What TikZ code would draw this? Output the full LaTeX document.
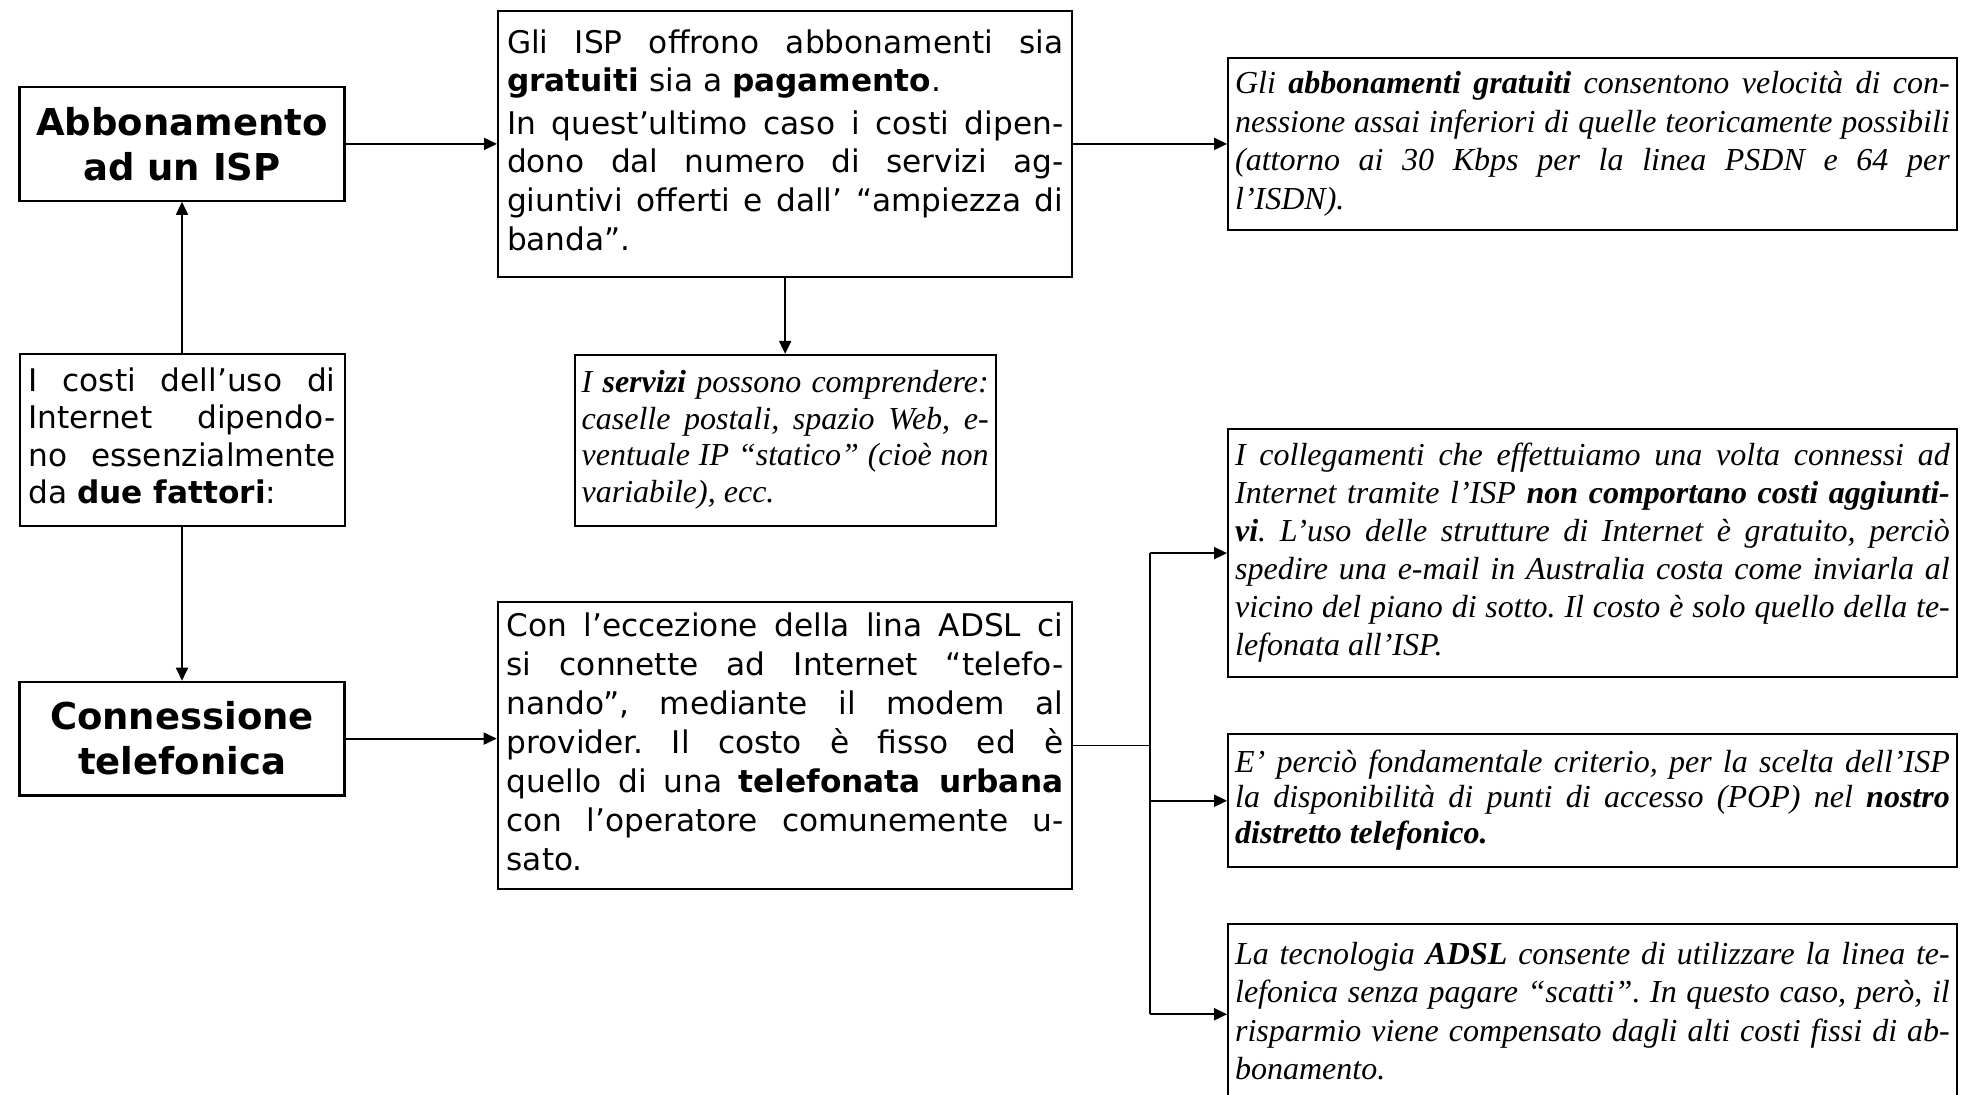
\documentclass[tikz,border=0pt]{standalone}
\usepackage{fontspec}
\newfontfamily\boxsans{DejaVu Sans}
\newfontfamily\boxserif{Liberation Serif}
\usetikzlibrary{arrows.meta,positioning}
\frenchspacing

\begin{document}
\begin{tikzpicture}[>={Triangle[length=6.5pt,width=6pt]}, line width=0.9pt,
  titlebox/.style={draw, line width=1.1pt, minimum width=162.5pt, minimum height=56.8pt, inner sep=3pt, align=center, font=\boxsans\bfseries\fontsize{18.5}{22.5}\selectfont},
  sansbox/.style={draw, line width=1pt, inner xsep=4.5pt, inner ysep=3pt, align=justify, font=\boxsans\fontsize{15.6}{19.3}\selectfont, execute at begin node=\strut, execute at end node=\strut},
  notebox/.style={draw, line width=1pt, inner xsep=3.5pt, inner ysep=3pt, text width=357.35pt, align=justify, font=\boxserif\itshape\fontsize{16}{17.6}\selectfont, execute at begin node=\strut, execute at end node=\strut}]
  \useasboundingbox (0,0) rectangle (983pt,-547pt);
  \clip (0,0) rectangle (983pt,-547pt);

  % left column
  \node[titlebox, anchor=north west] (abb) at (9.2pt,-43pt) {Abbonamento\\ad un ISP};
  \node[sansbox, text width=153.5pt, minimum height=85.65pt, font=\boxsans\fontsize{15.6}{18.8}\selectfont, below=75.8pt of abb] (costi)
    {I costi dell’uso di\linebreak Internet dipendo-\linebreak no essenzialmente\linebreak da \textbf{due fattori}:};
  \node[titlebox, below=77pt of costi] (conn) {Connessione\\telefonica};

  % middle column
  \node[sansbox, text width=278.15pt, minimum height=133pt, right=75.7pt of abb] (isp)
    {Gli ISP offrono abbonamenti sia\linebreak \textbf{gratuiti} sia a \textbf{pagamento}.\par\vspace{2pt}In quest’ultimo caso i costi dipen-\linebreak dono dal numero di servizi ag-\linebreak giuntivi offerti e dall’ “ampiezza di\linebreak banda”.};
  \node[notebox, text width=203.5pt, minimum height=85.35pt, font=\boxserif\itshape\fontsize{16}{18.3}\selectfont, below=38pt of isp] (serv)
    {I \textbf{servizi} possono comprendere:\linebreak caselle postali, spazio Web, e-\linebreak ventuale IP “statico” (cioè non\linebreak variabile), ecc.};
  \node[sansbox, text width=278.3pt, minimum height=143.15pt, font=\boxsans\fontsize{15.6}{19.5}\selectfont, right=75.55pt of conn, yshift=-3.4pt] (ecc)
    {Con l’eccezione della lina ADSL ci\linebreak si connette ad Internet “telefo-\linebreak nando”, mediante il modem al\linebreak provider. Il costo è fisso ed è\linebreak quello di una \textbf{telefonata urbana}\linebreak con l’operatore comunemente u-\linebreak sato.};

  % right column
  \node[notebox, minimum height=85.85pt, font=\boxserif\itshape\fontsize{16}{19.2}\selectfont, right=76.9pt of isp] (grat)
    {Gli \textbf{abbonamenti gratuiti} consentono velocità di con-\linebreak nessione assai inferiori di quelle teoricamente possibili\linebreak (attorno ai 30 Kbps per la linea PSDN e 64 per\linebreak l’ISDN).};
  \node[notebox, minimum height=124.35pt, font=\boxserif\itshape\fontsize{16}{19}\selectfont, below=98.5pt of grat] (coll)
    {I collegamenti che effettuiamo una volta connessi ad\linebreak Internet tramite l’ISP \textbf{non comportano costi aggiunti-\linebreak vi}. L’uso delle strutture di Internet è gratuito, perciò\linebreak spedire una e-mail in Australia costa come inviarla al\linebreak vicino del piano di sotto. Il costo è solo quello della te-\linebreak lefonata all’ISP.};
  \node[notebox, minimum height=66.3pt, below=27.5pt of coll] (pop)
    {E’ perciò fondamentale criterio, per la scelta dell’ISP\linebreak la disponibilità di punti di accesso (POP) nel \textbf{nostro\linebreak distretto telefonico.}};
  \node[notebox, minimum height=90pt, font=\boxserif\itshape\fontsize{16}{19.2}\selectfont, below=27.6pt of pop] (adsl)
    {La tecnologia \textbf{ADSL} consente di utilizzare la linea te-\linebreak lefonica senza pagare “scatti”. In questo caso, però, il\linebreak risparmio viene compensato dagli alti costi fissi di ab-\linebreak bonamento.};

  % arrows
  \draw[->] (costi) -- (abb);
  \draw[->] (costi) -- (conn);
  \draw[->] (abb) -- (isp);
  \draw[->] (isp) -- (grat);
  \draw[->] (isp) -- (serv);
  \draw[->] (conn.east) -- (conn.east -| ecc.west);

  % fork to the three notes
  \coordinate[right=38.5pt of ecc.east] (fork);
  \draw (ecc.east) -- (fork);
  \draw (fork |- coll.west) -- (fork |- adsl.west);
  \draw[->] (fork |- coll.west) -- (coll.west);
  \draw[->] (fork |- pop.west) -- (pop.west);
  \draw[->] (fork |- adsl.west) -- (adsl.west);
\end{tikzpicture}
\end{document}
